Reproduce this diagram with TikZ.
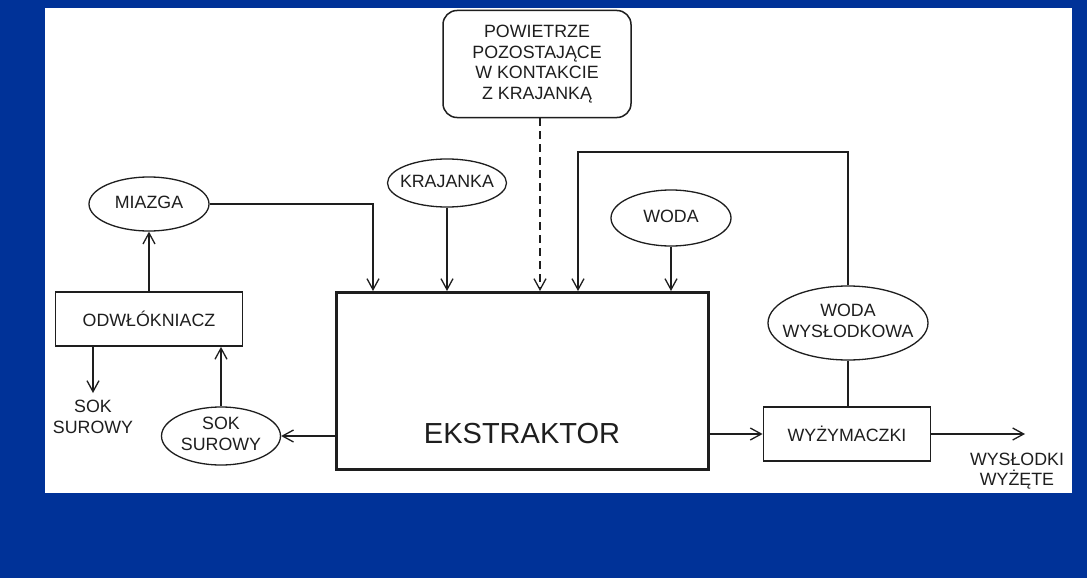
\documentclass[tikz,border=0pt]{standalone}
\usepackage{fontspec}
\setmainfont{Liberation Sans}
\usetikzlibrary{shapes.geometric,arrows.meta}
\definecolor{bgblue}{RGB}{0,50,152}
\definecolor{ink}{RGB}{30,30,30}
\newcommand{\zb}[1]{\makebox[0pt]{\begin{tabular}{@{}c@{}}#1\end{tabular}}}
\begin{document}
\begin{tikzpicture}[x=1pt,y=-1pt,
  every node/.style={font=\fontsize{17.8}{20.5}\selectfont, text=ink},
  oval/.style={ellipse, draw=ink, line width=1.3pt, inner sep=0pt},
  box/.style={rectangle, draw=ink, line width=1.8pt, inner sep=0pt, align=center},
  conn/.style={draw=ink, line width=1.3pt},
  arr/.style={conn, -{Straight Barb[length=11pt,width=12pt,line width=1.3pt]}}
]
\fill[bgblue] (0,0) rectangle (1087,578);
\fill[white] (45,8) rectangle (1072,493);
\useasboundingbox (0,0) rectangle (1087,578);

\node[oval, minimum width=120pt, minimum height=54pt] (miazga) at (149,204) {\zb{MIAZGA}};
\node[box, minimum width=187pt, minimum height=54pt] (odw) at (149,319) {ODWŁÓKNIACZ};
\node[align=center, inner sep=0pt] (sokl) at (93,417) {SOK\\SUROWY};
\node[oval, minimum width=119pt, minimum height=58pt] (soke) at (221,436) {\zb{SOK\\SUROWY}};
\node[box, line width=3pt, minimum width=372pt, minimum height=177pt] (ekst) at (522,381) {};
\node[font=\fontsize{29}{34}\selectfont] (ekstl) at (522,434) {EKSTRAKTOR};
\node[oval, minimum width=119pt, minimum height=48pt] (kraj) at (447,183) {\zb{KRAJANKA}};
\node[box, rounded corners=14pt, line width=1.5pt, minimum width=188pt, minimum height=107pt] (pow) at (537,64) {POWIETRZE\\POZOSTAJĄCE\\W KONTAKCIE\\Z KRAJANKĄ};
\node[oval, minimum width=120pt, minimum height=56pt] (woda) at (671,218) {\zb{WODA}};
\node[oval, minimum width=160pt, minimum height=74pt] (www) at (848,323) {\zb{WODA\\WYSŁODKOWA}};
\node[box, minimum width=167pt, minimum height=54pt] (wyz) at (847,434) {WYŻYMACZKI};
\node[align=center, inner sep=0pt] (wyst) at (1017,471) {WYSŁODKI\\WYŻĘTE};

\coordinate (xm) at (373,0);
\coordinate (xd) at (540,0);
\coordinate (fbtop) at (578,152);
\coordinate (xs) at (93,0);
\coordinate (sokout) at (93,393);
\coordinate (wout) at (1025,434);

\draw[arr] (miazga.east) -| (ekst.north -| xm);
\draw[arr] (kraj.south) -- (kraj.south |- ekst.north);
\draw[arr, dash pattern=on 8pt off 5pt] (pow.south -| xd) -- (ekst.north -| xd);
\draw[arr] (www.north) |- (fbtop) -- (ekst.north -| fbtop);
\draw[arr] (woda.south) -- (woda.south |- ekst.north);
\draw[conn] (www.south) -- (www.south |- wyz.north);
\draw[arr] (ekst.east |- wyz.west) -- (wyz.west);
\draw[arr] (wyz.east) -- (wout);
\draw[arr] (ekst.west |- soke.east) -- (soke.east);
\draw[arr] (soke.north) -- (soke.north |- odw.south);
\draw[arr] (odw.south -| xs) -- (sokout);
\draw[arr] (odw.north) -- (miazga.south);
\end{tikzpicture}
\end{document}
